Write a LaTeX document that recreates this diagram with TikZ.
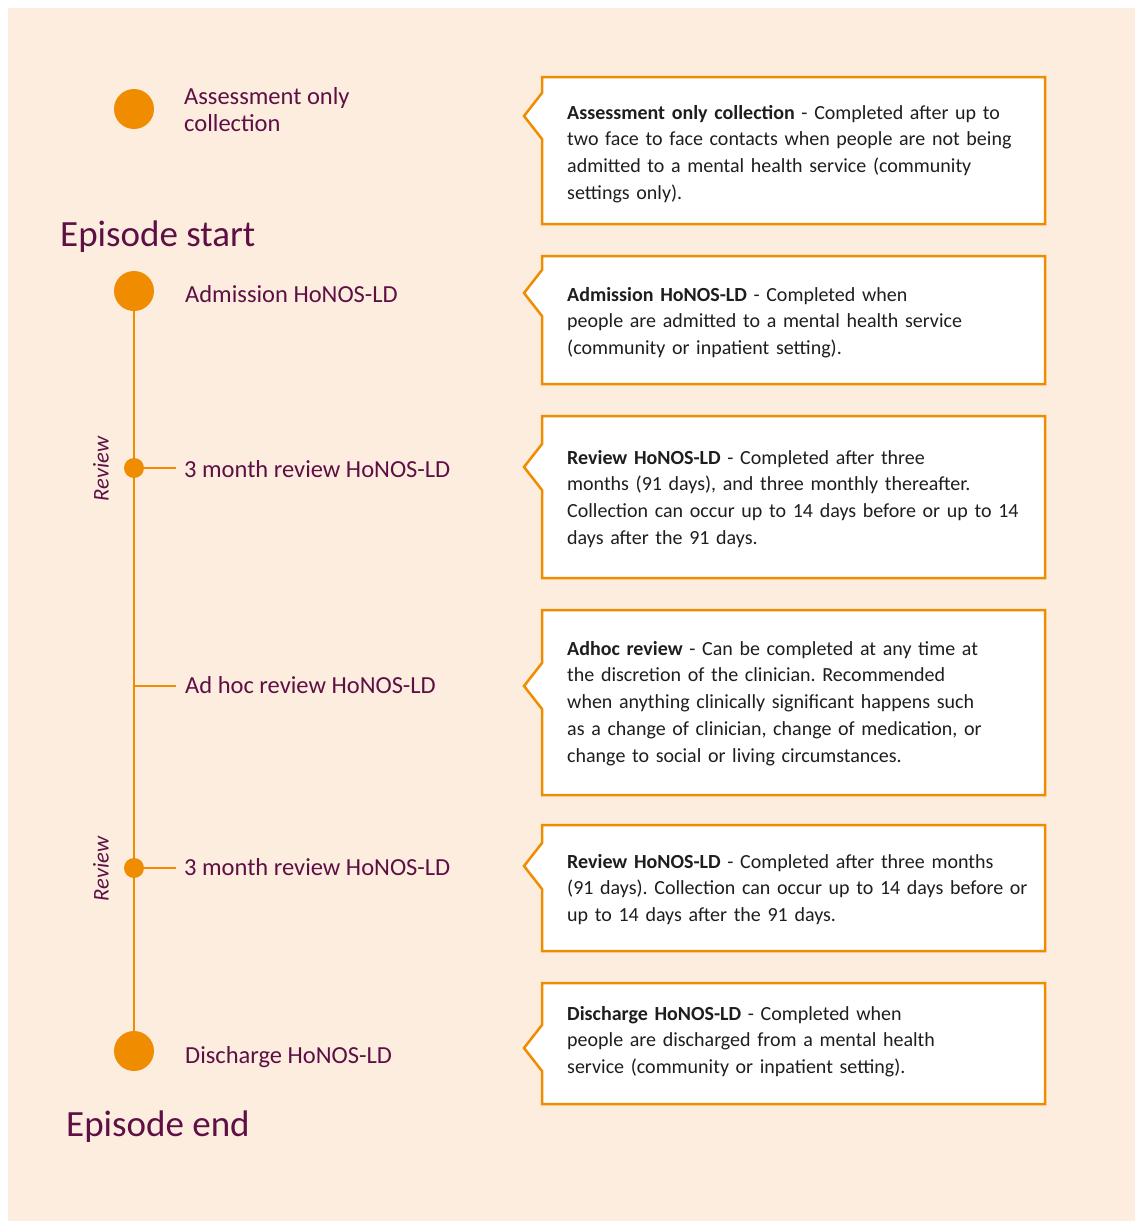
\documentclass[tikz,border=0pt]{standalone}
\usepackage{fontspec}
\setmainfont{Carlito}
\usepackage{tkz-euclide}
\frenchspacing
\definecolor{peach}{HTML}{FDEDDF}
\definecolor{amber}{HTML}{F08C00}
\definecolor{plum}{HTML}{5E1045}
\definecolor{ink}{HTML}{1E1E1E}
\tikzset{
  stage/.style={anchor=base west,inner sep=0pt,text=plum,font=\fontsize{24.5}{27}\selectfont,align=left},
  heading/.style={anchor=base west,inner sep=0pt,text=plum,font=\fontsize{37}{40}\selectfont},
  reviewtag/.style={rotate=90,inner sep=0pt,text=plum,font=\itshape\fontsize{22.5}{24}\selectfont},
  notebox/.style={fill=white,draw=amber,line width=2.5pt,line join=miter},
  notetext/.style={anchor=base west,inner sep=0pt,text=ink,text width=470pt,align=left,
    font=\fontsize{20}{26.8}\selectfont},
  track/.style={draw=amber,line width=2.8pt}
}

\begin{document}
\begin{tikzpicture}[x=1pt,y=-1pt]
                    \useasboundingbox (0,0) rectangle (1135,1221);
                    \fill[peach] (8,8) rectangle (1135,1221);

                    % timeline
                    \tkzDefPoint(134,109){A}
                    \tkzDefPoint(134,291){S}
                    \tkzDefPoint(134,468){R1}
                    \tkzDefPoint(134,686){H}
                    \tkzDefPoint(134,868){R2}
                    \tkzDefPoint(134,1051){E}
                    \tkzDefPoint(176,468){R1t}
                    \tkzDefPoint(176,686){Ht}
                    \tkzDefPoint(176,868){R2t}

                    \draw[track] (S) -- (E);
                    \draw[track] (R1) -- (R1t);
                    \draw[track] (H) -- (Ht);
                    \draw[track] (R2) -- (R2t);
                    \fill[amber] (A) circle (20pt);
                    \fill[amber] (S) circle (20pt);
                    \fill[amber] (E) circle (20pt);
                    \fill[amber] (R1) circle (10pt);
                    \fill[amber] (R2) circle (10pt);

                    \node[stage] (lA) at (184,131) {Assessment only\\collection};
                    \node[heading] (start) at (60,246) {Episode start};
                    \node[stage] (lS) at (185,302) {Admission HoNOS-LD};
                    \node[stage] (lR1) at (184,477) {3 month review HoNOS-LD};
                    \node[stage] (lH) at (185,693) {Ad hoc review HoNOS-LD};
                    \node[stage] (lR2) at (184,875) {3 month review HoNOS-LD};
                    \node[stage] (lE) at (185,1063) {Discharge HoNOS-LD};
                    \node[heading] (end) at (66,1136) {Episode end};
                    \node[reviewtag] (rv1) at (101,469) {Review};
                    \node[reviewtag] (rv2) at (101,869) {Review};

                    % call-out boxes
                    \draw[notebox] (542,77) -- (1045,77) -- (1045,224) -- (542,224) -- (542,139) -- (524,116) -- (542,93) -- cycle;
                    \draw[notebox] (542,256) -- (1045,256) -- (1045,384) -- (542,384) -- (542,316) -- (524,293) -- (542,270) -- cycle;
                    \draw[notebox] (542,416) -- (1045,416) -- (1045,578) -- (542,578) -- (542,490) -- (524,467) -- (542,444) -- cycle;
                    \draw[notebox] (542,610) -- (1045,610) -- (1045,795) -- (542,795) -- (542,709) -- (524,686) -- (542,663) -- cycle;
                    \draw[notebox] (542,825) -- (1045,825) -- (1045,951) -- (542,951) -- (542,889) -- (524,866) -- (542,843) -- cycle;
                    \draw[notebox] (542,983) -- (1045,983) -- (1045,1104) -- (542,1104) -- (542,1071) -- (524,1048) -- (542,1025) -- cycle;

                    \node[notetext] (tA) at (567,119) {\textbf{Assessment only collection} - Completed after up to\\
                      two face to face contacts when people are not being\\
                      admitted to a mental health service (community\\
                      settings only).};
                    \node[notetext] (tS) at (567,301) {\textbf{Admission HoNOS-LD} - Completed when\\
                      people are admitted to a mental health service\\
                      (community or inpatient setting).};
                    \node[notetext] (tR1) at (567,464) {\textbf{Review HoNOS-LD} - Completed after three\\
                      months (91 days), and three monthly thereafter.\\
                      Collection can occur up to 14 days before or up to 14\\
                      days after the 91 days.};
                    \node[notetext] (tH) at (567,655) {\textbf{Adhoc review} - Can be completed at any time at\\
                      the discretion of the clinician. Recommended\\
                      when anything clinically significant happens such\\
                      as a change of clinician, change of medication, or\\
                      change to social or living circumstances.};
                    \node[notetext] (tR2) at (567,868) {\textbf{Review HoNOS-LD} - Completed after three months\\
                      (91 days). Collection can occur up to 14 days before or\\
                      up to 14 days after the 91 days.};
                    \node[notetext] (tE) at (567,1020) {\textbf{Discharge HoNOS-LD} - Completed when\\
                      people are discharged from a mental health\\
                      service (community or inpatient setting).};
                \end{tikzpicture}
\end{document}
